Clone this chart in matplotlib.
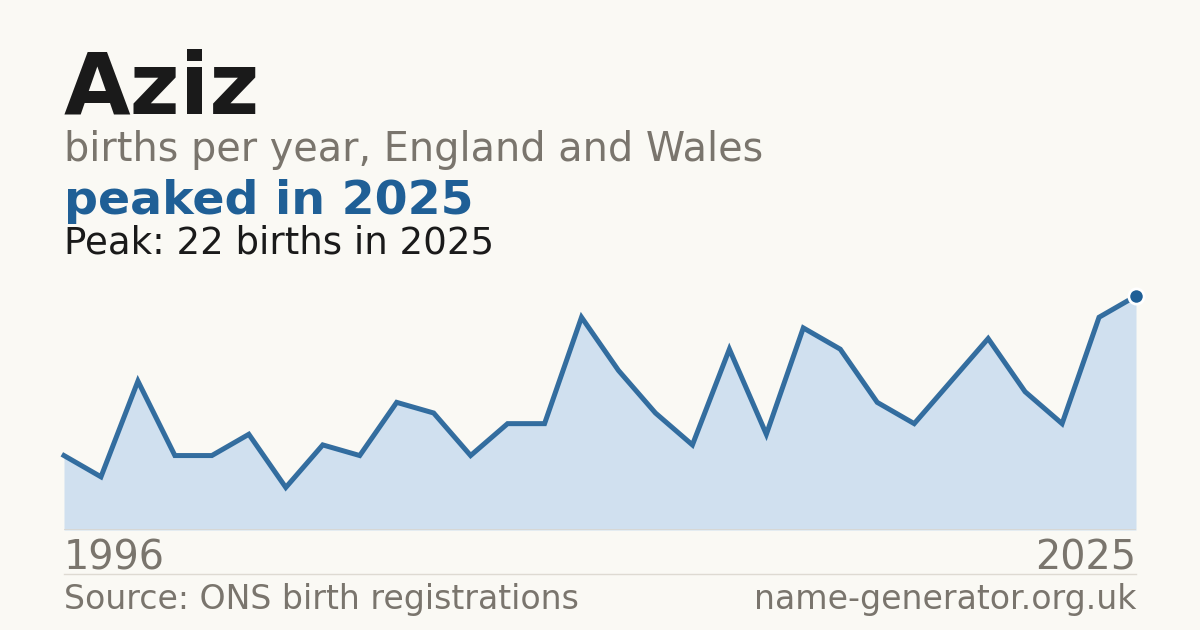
import matplotlib
matplotlib.use("Agg")
import matplotlib.pyplot as plt
from matplotlib.lines import Line2D

# ---- data ----
years = list(range(1996, 2026))
births = [7, 5, 14, 7, 7, 9, 4, 8, 7, 12, 11, 7, 10, 10, 20,
          15, 11, 8, 17, 9, 19, 17, 12, 10, 14, 18, 13, 10, 20, 22]
name = "Aziz"
subtitle = "births per year, England and Wales"
headline = "peaked in 2025"
peak_note = "Peak: 22 births in 2025"
source = "Source: ONS birth registrations"
site = "name-generator.org.uk"

# ---- style ----
W, H, DPI = 1200, 630, 100
BG = "#faf9f4"
DARK = "#1a1a1a"
GREY = "#7a756d"
BLUE = "#1f5f96"
FILL = "#d0e0ef"
RULE = "#dedad2"

plt.rcParams["font.family"] = ["DejaVu Sans"]

fig = plt.figure(figsize=(W / DPI, H / DPI), dpi=DPI, facecolor=BG)

def fx(px):
    return px / W

def fy(py):
    return 1 - py / H

# chart area: x 64..1136, y baseline 530, top 290
top_px, base_px = 290, 530
ax = fig.add_axes([fx(64), fy(base_px), fx(1136) - fx(64), (base_px - top_px) / H])
ax.set_facecolor("none")
ymax = 22 * (base_px - top_px) / (base_px - 296)
ax.set_xlim(years[0], years[-1])
ax.set_ylim(0, ymax)
ax.fill_between(years, births, 0, color=FILL, lw=0, zorder=1)
ax.plot(years, births, color=BLUE, lw=3.6, alpha=0.9, solid_joinstyle="miter",
        zorder=2, clip_on=False)
ax.axhline(0, color="#d8d6d0", lw=1.2, zorder=3)
ax.plot([years[-1]], [births[-1]], marker="o", ms=11, mfc=BLUE, mec="white",
        mew=2, zorder=4, clip_on=False)
ax.axis("off")

# texts
fig.text(fx(64), fy(113), name, fontsize=62, fontweight="bold", color=DARK, va="baseline")
fig.text(fx(64), fy(161), subtitle, fontsize=28.6, color=GREY, va="baseline")
fig.text(fx(64), fy(214), headline, fontsize=34.2, fontweight="bold", color=BLUE, va="baseline")
fig.text(fx(64), fy(253), peak_note, fontsize=26.7, color=DARK, va="baseline")
fig.text(fx(64), fy(570), str(years[0]), fontsize=28.6, color=GREY, va="baseline")
fig.text(fx(1136), fy(570), str(years[-1]), fontsize=28.6, color=GREY, va="baseline", ha="right")
fig.text(fx(64), fy(609), source, fontsize=23.9, color=GREY, va="baseline")
fig.text(fx(1136), fy(609), site, fontsize=23.9, color=GREY, va="baseline", ha="right")

fig.add_artist(Line2D([fx(64), fx(1136)], [fy(574), fy(574)], color=RULE, lw=1,
                      transform=fig.transFigure))

fig.savefig("out.png", dpi=DPI, facecolor=BG)
